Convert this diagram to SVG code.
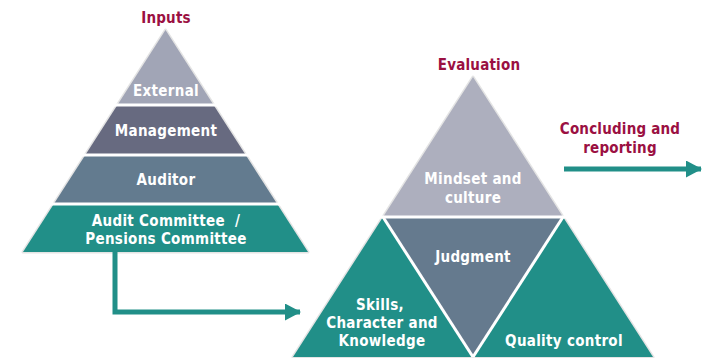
<svg xmlns="http://www.w3.org/2000/svg" width="702" height="358" viewBox="0 0 702 358">
<defs>
<style>
.t{font-family:"DejaVu Sans Condensed","DejaVu Sans",sans-serif;font-stretch:condensed;font-weight:bold;font-size:15px;letter-spacing:0.3px;fill:#ffffff;text-anchor:middle}
.h{font-family:"DejaVu Sans Condensed","DejaVu Sans",sans-serif;font-stretch:condensed;font-weight:bold;font-size:15px;letter-spacing:0.2px;fill:#9b1042;text-anchor:middle}
.outline{fill:none;stroke:#e4e4e4;stroke-width:3;stroke-linejoin:round}
.sep{stroke:#ffffff;stroke-width:3}
.conn{fill:none;stroke:#218f88;stroke-width:5}
</style>
<marker id="ah" markerUnits="userSpaceOnUse" markerWidth="16" markerHeight="17" refX="15" refY="8.5" orient="auto">
<path d="M0,0 L16,8.5 L0,17 Z" fill="#218f88"/>
</marker>
</defs>
<rect width="702" height="358" fill="#ffffff"/>
<text class="h" x="166" y="23">Inputs</text>
<text class="h" x="479" y="70">Evaluation</text>
<text class="h" x="620" y="134">Concluding and</text>
<text class="h" x="620" y="153">reporting</text>

<path class="outline" d="M165.5,30 L308,252 L23,252 Z"/>
<g id="external"><path d="M165.5,30 L213.6,105 L117.4,105 Z" fill="#a1a5b6"/><text class="t" x="166" y="96">External</text></g>
<g id="management"><path d="M117.4,105 L213.6,105 L245.7,155 L85.3,155 Z" fill="#676a80"/><text class="t" x="166" y="136">Management</text></g>
<g id="auditor"><path d="M85.3,155 L245.7,155 L277.2,204 L53.8,204 Z" fill="#637b8f"/><text class="t" x="166" y="185">Auditor</text></g>
<g id="audit-committee"><path d="M53.8,204 L277.2,204 L308,252 L23,252 Z" fill="#218f88"/><text class="t" x="166" y="226">Audit Committee&#160; /</text><text class="t" x="166" y="244">Pensions Committee</text></g>
<g class="seps"><line class="sep" x1="100" y1="105" x2="230" y2="105"/><line class="sep" x1="70" y1="155" x2="262" y2="155"/><line class="sep" x1="40" y1="204" x2="292" y2="204"/></g>

<path class="outline" d="M473,77 L653,357 L293,357 Z"/>
<g id="mindset"><path d="M473,77 L563,217 L383,217 Z" fill="#adafbe"/><text class="t" x="473" y="184">Mindset and</text><text class="t" x="473" y="203">culture</text></g>
<g id="skills"><path d="M383,217 L473,357 L293,357 Z" fill="#218f88"/><text class="t" x="380" y="310">Skills,</text><text class="t" x="382" y="328">Character and</text><text class="t" x="382" y="346">Knowledge</text></g>
<g id="judgment"><path d="M383,217 L563,217 L473,357 Z" fill="#657a8e"/><text class="t" x="473" y="262">Judgment</text></g>
<g id="quality"><path d="M563,217 L653,357 L473,357 Z" fill="#218f88"/><text class="t" x="564" y="346">Quality control</text></g>
<g class="seps"><line class="sep" x1="370" y1="217" x2="576" y2="217"/><line class="sep" x1="383" y1="217" x2="473" y2="357"/><line class="sep" x1="563" y1="217" x2="473" y2="357"/></g>

<g id="connectors">
<path class="conn" d="M115,252 L115,312 L300,312" marker-end="url(#ah)"/>
<path class="conn" d="M564,169 L701,169" marker-end="url(#ah)"/>
</g>
</svg>
